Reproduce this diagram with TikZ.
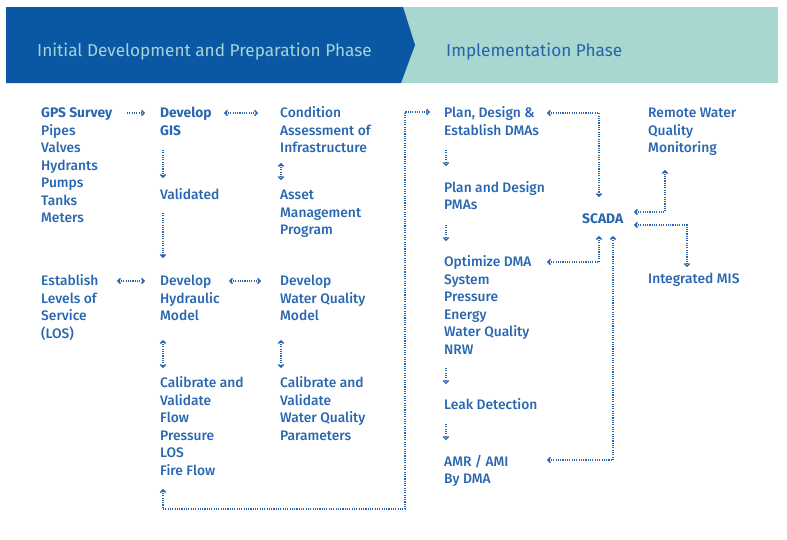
\documentclass[tikz,border=0pt]{standalone}
\usepackage{fontspec}
\setmainfont{Fira Sans}[UprightFont={* Medium}, BoldFont={* Bold}]
\newfontfamily\headfont{Fira Sans}
\usetikzlibrary{arrows.meta}
\definecolor{txtblue}{HTML}{2866B0}
\definecolor{hdblue}{HTML}{0A57A4}
\definecolor{hdteal}{HTML}{A7D7D0}
\definecolor{hdlight}{HTML}{A4D4D6}
\definecolor{hddark}{HTML}{2563AA}
\tikzset{
  lbl/.style={anchor=base west, inner sep=0pt, text=txtblue,
    font=\fontsize{13.8}{17.5}\selectfont},
  conn/.style={draw=txtblue, line width=1.35pt, dash pattern=on 1.1pt off 1.2pt,
    >={Straight Barb[length=2.5pt,width=5.2pt,line width=1.4pt]}},
  one/.style={conn, ->},
  two/.style={conn, <->},
  hdtxt/.style={anchor=base west, inner sep=0pt, font=\headfont\fontsize{17.2}{20}\selectfont},
}
\newcommand{\lines}[1]{\begin{tabular}[t]{@{}l@{}}#1\end{tabular}}
\begin{document}
\begin{tikzpicture}[x=1pt,y=-1pt]
\useasboundingbox (0,0) rectangle (787,539);
% header
\fill[hdteal] (6,7) rectangle (778,83);
\fill[hdblue] (6,7) -- (403,7) -- (415,45) -- (401,83) -- (6,83) -- cycle;
\node[hdtxt, text=hdlight] (h1) at (37,56) {Initial Development and Preparation Phase};
\node[hdtxt, text=hddark] (h2) at (446,56) {Implementation Phase};
% left part
\node[lbl] (gps) at (41,117.5) {\lines{\textbf{GPS Survey}\\Pipes\\Valves\\Hydrants\\Pumps\\Tanks\\Meters}};
\node[lbl] (gis) at (160,117.5) {\lines{\textbf{Develop}\\\textbf{GIS}}};
\node[lbl] (cond) at (280,117.5) {\lines{Condition\\Assessment of\\Infrastructure}};
\node[lbl] (valid) at (160,199.5) {\lines{Validated}};
\node[lbl] (asset) at (280,199.5) {\lines{Asset\\Management\\Program}};
\node[lbl] (estab) at (41,285.5) {\lines{Establish\\Levels of\\Service\\(LOS)}};
\node[lbl] (hyd) at (160,285.5) {\lines{Develop\\Hydraulic\\Model}};
\node[lbl] (wqm) at (280,285.5) {\lines{Develop\\Water Quality\\Model}};
\node[lbl] (calh) at (160,387.5) {\lines{Calibrate and\\Validate\\Flow\\Pressure\\LOS\\Fire Flow}};
\node[lbl] (calw) at (280,387.5) {\lines{Calibrate and\\Validate\\Water Quality\\Parameters}};
% right part
\node[lbl] (plan) at (444,117.5) {\lines{Plan, Design \&\\Establish DMAs}};
\node[lbl] (pma) at (444,192) {\lines{Plan and Design\\PMAs}};
\node[lbl] (opt) at (444,266.5) {\lines{Optimize DMA\\System\\Pressure\\Energy\\Water Quality\\NRW}};
\node[lbl] (leak) at (444,409) {\lines{Leak Detection}};
\node[lbl] (amr) at (444,466) {\lines{AMR / AMI\\By DMA}};
\node[lbl] (scada) at (582,223) {\textbf{SCADA}};
\node[lbl] (remote) at (648,117.5) {\lines{Remote Water\\Quality\\Monitoring}};
\node[lbl] (mis) at (648,283) {\lines{Integrated MIS}};
% connector end points
\coordinate (a1) at (127,113); \coordinate (a2) at (145,113);
\coordinate (b1) at (224,113); \coordinate (b2) at (258,113);
\coordinate (c1) at (281,163); \coordinate (c2) at (281,180);
\coordinate (d1) at (163,150); \coordinate (d2) at (163,178);
\coordinate (e1) at (163,213); \coordinate (e2) at (163,258);
\coordinate (f1) at (117,281); \coordinate (f2) at (145,281);
\coordinate (g1) at (229,281); \coordinate (g2) at (261,281);
\coordinate (h1a) at (163,340); \coordinate (h1b) at (163,368);
\coordinate (i1) at (281,340); \coordinate (i2) at (281,368);
\coordinate (j1) at (163,489); \coordinate (j2) at (430,112);
\coordinate (k1) at (446,150); \coordinate (k2) at (446,166);
\coordinate (l1) at (446,225); \coordinate (l2) at (446,241);
\coordinate (m1) at (446,368); \coordinate (m2) at (446,384);
\coordinate (n1) at (446,424); \coordinate (n2) at (446,440);
\coordinate (p1) at (547,113); \coordinate (p2) at (599,197);
\coordinate (q1) at (547,262); \coordinate (q2) at (599,236);
\coordinate (r1) at (547,460); \coordinate (r2) at (613,236);
\coordinate (s1) at (634,212); \coordinate (s2) at (665,170);
\coordinate (t1) at (634,225); \coordinate (t2) at (687,267);
% connectors
\draw[one] (a1) -- (a2);
\draw[two] (b1) -- (b2);
\draw[two] (c1) -- (c2);
\draw[one] (d1) -- (d2);
\draw[one] (e1) -- (e2);
\draw[two] (f1) -- (f2);
\draw[two] (g1) -- (g2);
\draw[two] (h1a) -- (h1b);
\draw[two] (i1) -- (i2);
\draw[two] (j1) -- (163,509) -- (405,509) -- (405,112) -- (j2);
\draw[one] (k1) -- (k2);
\draw[one] (l1) -- (l2);
\draw[one] (m1) -- (m2);
\draw[one] (n1) -- (n2);
\draw[two] (p1) -- (599,113) -- (p2);
\draw[two] (q1) -- (599,262) -- (q2);
\draw[two] (r1) -- (613,460) -- (r2);
\draw[two] (s1) -- (665,212) -- (s2);
\draw[two] (t1) -- (687,225) -- (t2);
\end{tikzpicture}
\end{document}
